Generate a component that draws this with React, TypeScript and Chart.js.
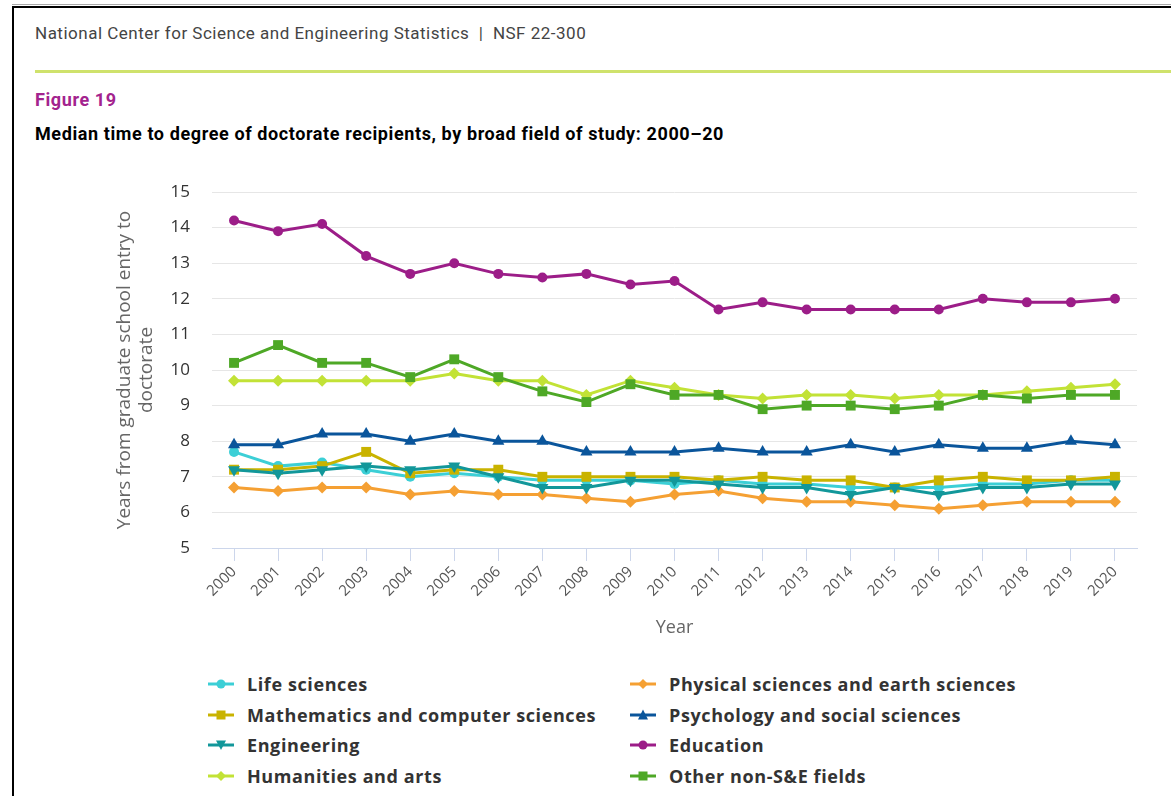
import React, { useEffect, useRef } from "react";
import { Chart, registerables } from "chart.js";

Chart.register(...registerables);

const years = ["2000","2001","2002","2003","2004","2005","2006","2007","2008","2009","2010","2011","2012","2013","2014","2015","2016","2017","2018","2019","2020"];

const lifeSciences = [7.7, 7.3, 7.4, 7.2, 7.0, 7.1, 7.0, 6.9, 6.9, 6.9, 6.8, 6.9, 6.8, 6.8, 6.7, 6.7, 6.7, 6.8, 6.8, 6.9, 6.9];
const physicalSciences = [6.7, 6.6, 6.7, 6.7, 6.5, 6.6, 6.5, 6.5, 6.4, 6.3, 6.5, 6.6, 6.4, 6.3, 6.3, 6.2, 6.1, 6.2, 6.3, 6.3, 6.3];
const mathComputer = [7.2, 7.2, 7.3, 7.7, 7.1, 7.2, 7.2, 7.0, 7.0, 7.0, 7.0, 6.9, 7.0, 6.9, 6.9, 6.7, 6.9, 7.0, 6.9, 6.9, 7.0];
const psychologySocial = [7.9, 7.9, 8.2, 8.2, 8.0, 8.2, 8.0, 8.0, 7.7, 7.7, 7.7, 7.8, 7.7, 7.7, 7.9, 7.7, 7.9, 7.8, 7.8, 8.0, 7.9];
const engineering = [7.2, 7.1, 7.2, 7.3, 7.2, 7.3, 7.0, 6.7, 6.7, 6.9, 6.9, 6.8, 6.7, 6.7, 6.5, 6.7, 6.5, 6.7, 6.7, 6.8, 6.8];
const education = [14.2, 13.9, 14.1, 13.2, 12.7, 13.0, 12.7, 12.6, 12.7, 12.4, 12.5, 11.7, 11.9, 11.7, 11.7, 11.7, 11.7, 12.0, 11.9, 11.9, 12.0];
const humanitiesArts = [9.7, 9.7, 9.7, 9.7, 9.7, 9.9, 9.7, 9.7, 9.3, 9.7, 9.5, 9.3, 9.2, 9.3, 9.3, 9.2, 9.3, 9.3, 9.4, 9.5, 9.6];
const otherNonSE = [10.2, 10.7, 10.2, 10.2, 9.8, 10.3, 9.8, 9.4, 9.1, 9.6, 9.3, 9.3, 8.9, 9.0, 9.0, 8.9, 9.0, 9.3, 9.2, 9.3, 9.3];

const yTicks = [5, 6, 7, 8, 9, 10, 11, 12, 13, 14, 15];

const seriesNames = [
  "Life sciences",
  "Physical sciences and earth sciences",
  "Mathematics and computer sciences",
  "Psychology and social sciences",
  "Engineering",
  "Education",
  "Humanities and arts",
  "Other non-S&E fields",
];
const seriesData = [lifeSciences, physicalSciences, mathComputer, psychologySocial, engineering, education, humanitiesArts, otherNonSE];
const seriesColors = ["#3ccfd6", "#f5a033", "#c9b300", "#0a559b", "#12979a", "#9c1d88", "#c2e236", "#4ea826"];
const seriesPointStyles = ["circle", "rectRot", "rect", "triangle", "triangle", "circle", "rectRot", "rect"];
const seriesPointRotation = [0, 0, 0, 0, 180, 0, 0, 0];
const seriesPointRadius = [5, 6, 7, 7, 7, 5, 6, 7];

const FONT = "'Open Sans', sans-serif";

function LegendSymbol({ i }: { i: number }) {
  const c = seriesColors[i];
  const s = seriesPointStyles[i];
  let marker: React.ReactNode = null;
  if (s === "circle") marker = <circle cx={13} cy={8} r={4.5} fill={c} />;
  else if (s === "rect") marker = <rect x={8.5} y={3.5} width={9} height={9} fill={c} />;
  else if (s === "rectRot") marker = <polygon points="13,3 18,8 13,13 8,8" fill={c} />;
  else if (s === "triangle" && seriesPointRotation[i] === 180) marker = <polygon points="8,3.5 18,3.5 13,13" fill={c} />;
  else marker = <polygon points="13,2.5 18,12.5 8,12.5" fill={c} />;
  return (
    <svg width={26} height={16} style={{ display: "block" }}>
      <line x1={0} y1={8} x2={26} y2={8} stroke={c} strokeWidth={3} />
      {marker}
    </svg>
  );
}

export default function App() {
  const canvasRef = useRef<HTMLCanvasElement | null>(null);

  useEffect(() => {
    document.body.style.margin = "0";
    const canvas = canvasRef.current;
    if (!canvas) return;
    const datasets = seriesNames.map((name, i) => ({
      label: name,
      data: seriesData[i],
      borderColor: seriesColors[i],
      backgroundColor: seriesColors[i],
      borderWidth: 3,
      pointStyle: seriesPointStyles[i] as any,
      pointRotation: seriesPointRotation[i],
      pointRadius: seriesPointRadius[i],
      pointBorderWidth: 0,
      pointHoverRadius: seriesPointRadius[i],
      tension: 0,
      order: seriesNames.length - i,
    }));
    const chart = new Chart(canvas, {
      type: "line",
      data: { labels: years, datasets },
      options: {
        animation: false,
        responsive: false,
        maintainAspectRatio: false,
        devicePixelRatio: 1,
        layout: { padding: { left: 114, right: 34, top: 42, bottom: 0 } },
        plugins: { legend: { display: false }, tooltip: { enabled: false }, title: { display: false } },
        scales: {
          x: {
            type: "category",
            offset: true,
            grid: {
              offset: false,
              drawOnChartArea: false,
              drawTicks: true,
              tickLength: 13,
              color: "#ccd6eb",
              lineWidth: 1,
            },
            border: { display: true, color: "#ccd6eb", width: 1 },
            ticks: {
              autoSkip: false,
              minRotation: 45,
              maxRotation: 45,
              padding: 2,
              color: "#555555",
              font: { family: FONT, size: 15 },
            },
            title: {
              display: true,
              text: "Year",
              color: "#666666",
              font: { family: FONT, size: 18 },
              padding: { top: 0, bottom: 11 },
            },
            afterFit: (scale: any) => { scale.height = 102; },
          },
          y: {
            min: 5,
            max: 15,
            afterBuildTicks: (scale: any) => { scale.ticks = yTicks.map((v) => ({ value: v })); },
            grid: { color: "#e6e6e6", lineWidth: 1, drawTicks: false },
            border: { display: false },
            ticks: {
              padding: 22,
              color: "#333333",
              font: { family: FONT, size: 17 },
            },
            title: {
              display: true,
              text: ["Years from graduate school entry to", "doctorate"],
              color: "#666666",
              font: { family: FONT, size: 19, lineHeight: 1.15 },
              padding: { top: 0, bottom: 0 },
            },
            afterFit: (scale: any) => { scale.width = 98; },
          },
        },
      },
    });
    return () => chart.destroy();
  }, []);

  const legendRows = [0, 1, 2, 3];
  return (
    <div style={{ position: "relative", width: 1171, height: 796, overflow: "hidden", background: "#fff", fontFamily: FONT }}>
      <div style={{ position: "absolute", left: 12, top: 6, right: -10, bottom: -10, borderLeft: "2px solid #000", borderTop: "2px solid #000" }} />
      <div style={{ position: "absolute", left: 12, top: 4, right: 0, height: 1, background: "#aaa" }} />
      <div style={{ position: "absolute", left: 35, top: 22, fontFamily: "Roboto, sans-serif", fontSize: 17, letterSpacing: 0.5, color: "#444", lineHeight: "22px", whiteSpace: "pre" }}>
        National Center for Science and Engineering Statistics  |  NSF 22-300
      </div>
      <div style={{ position: "absolute", left: 35, top: 70, right: 0, height: 3, background: "#cfe26c" }} />
      <div style={{ position: "absolute", left: 35, top: 89, fontFamily: "Roboto, sans-serif", fontSize: 18, letterSpacing: 0.6, fontWeight: 700, color: "#a3238e", lineHeight: "22px" }}>
        Figure 19
      </div>
      <div style={{ position: "absolute", left: 35, top: 123, fontFamily: "Roboto, sans-serif", fontSize: 18, letterSpacing: 0.6, fontWeight: 700, color: "#000", lineHeight: "22px", whiteSpace: "nowrap" }}>
        Median time to degree of doctorate recipients, by broad field of study: 2000–20
      </div>
      <canvas ref={canvasRef} width={1171} height={500} style={{ position: "absolute", left: 0, top: 150, width: 1171, height: 500 }} />
      {legendRows.map((r) =>
        [0, 1].map((c) => {
          const i = r * 2 + c;
          return (
            <div key={i} style={{ position: "absolute", left: c === 0 ? 208 : 630, top: 684 + r * 30.5 - 12, height: 24, display: "flex", alignItems: "center" }}>
              <LegendSymbol i={i} />
              <span style={{ marginLeft: 13, fontSize: 18, letterSpacing: 0.6, fontWeight: 700, color: "#333", whiteSpace: "nowrap" }}>{seriesNames[i]}</span>
            </div>
          );
        })
      )}
    </div>
  );
}
